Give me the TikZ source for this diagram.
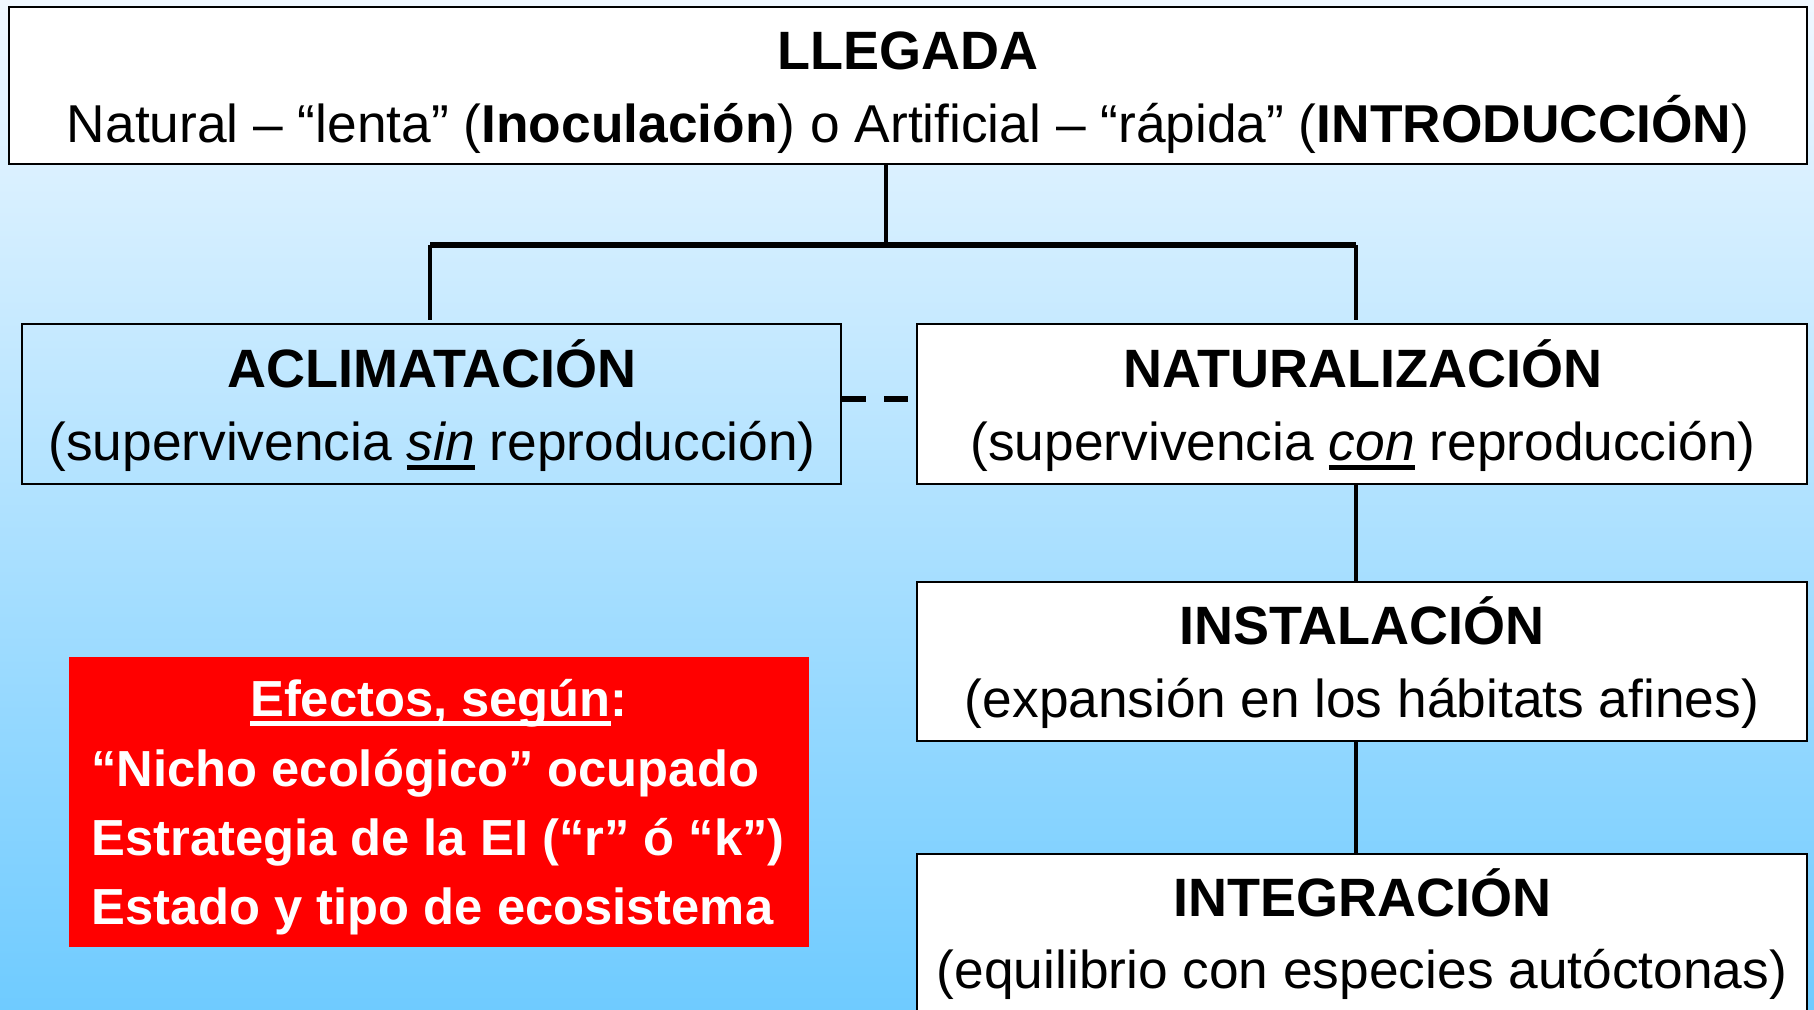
\documentclass[tikz,border=0pt]{standalone}
\usepackage{fontspec}
\setmainfont{Liberation Sans}
\usepackage{xcolor}
\usetikzlibrary{calc}

\definecolor{bgtop}{RGB}{240,248,255}
\definecolor{bgbottom}{RGB}{111,203,255}

% underline drawn close to the baseline, as in the slide
\newcommand{\undertxt}[1]{\setbox0\hbox{#1}\rlap{\rule[-5pt]{\wd0}{2.5pt}}\box0\relax}

\begin{document}
\begin{tikzpicture}[x=0.5pt,y=0.5pt,yscale=-1,xscale=1,
  boxnode/.style={draw=black, line width=1.2pt, fill=white, inner sep=0pt},
  head/.style={anchor=base, inner sep=0pt, font=\fontsize{27}{32}\selectfont\bfseries},
  sub/.style={anchor=base, inner sep=0pt, font=\fontsize{26.65}{31}\selectfont},
  redtxt/.style={anchor=base west, inner sep=0pt, text=white, font=\fontsize{25.35}{30}\selectfont\bfseries},
  link/.style={line width=2pt},
  bar/.style={line width=3pt},
  dashlink/.style={line width=3pt, dash pattern=on 12pt off 9pt}]

\useasboundingbox (0,0) rectangle (1814,1009);
\shade[top color=bgtop, bottom color=bgbottom] (0,0) rectangle (1814,1009);

% boxes
\node[boxnode, minimum width=899pt, minimum height=78.5pt] (llegada) at (908,85.5) {};
\node[boxnode, fill=none, minimum width=409.5pt, minimum height=80pt] (aclim) at (431.5,404) {};
\node[boxnode, minimum width=445pt, minimum height=80pt] (natur) at (1362,404) {};
\node[boxnode, minimum width=445pt, minimum height=79.5pt] (instal) at (1362,661.5) {};
\node[boxnode, minimum width=445pt, minimum height=80pt] (integr) at (1362,934) {};
\node[fill=red, draw=none, inner sep=0pt, minimum width=370pt, minimum height=145pt] (efectos) at (439,802) {};

% texts
\node[head] (llegadaT) at (908,69) {LLEGADA};
\node[sub] (llegadaS) at (908,142) {Natural – “lenta” (\textbf{Inoculación}) o Artificial – “rápida” (\textbf{INTRODUCCIÓN})};

\node[head] (aclimT) at (432,387) {ACLIMATACIÓN};
\node[sub] (aclimS) at (432,460) {(supervivencia \undertxt{\textit{sin}} reproducción)};

\node[head] (naturT) at (1363,387) {NATURALIZACIÓN};
\node[sub] (naturS) at (1363,460) {(supervivencia \undertxt{\textit{con}} reproducción)};

\node[head] (instalT) at (1362,644) {INSTALACIÓN};
\node[sub] (instalS) at (1362,717) {(expansión en los hábitats afines)};

\node[head] (integrT) at (1362,916) {INTEGRACIÓN};
\node[sub] (integrS) at (1362,988) {(equilibrio con especies autóctonas)};

\node[redtxt, anchor=base] (efectosT) at (439,716) {\undertxt{Efectos, según}:};
\node[redtxt] (nicho) at (91,786) {“Nicho ecológico” ocupado};
\node[redtxt] (estrategia) at (91,855) {Estrategia de la EI (“r” ó “k”)};
\node[redtxt] (estado) at (91,924) {Estado y tipo de ecosistema};

% connectors
\coordinate (fork) at (886,245);
\coordinate (forkL) at (430,245);
\coordinate (forkR) at (1356,245);
\draw[link] (llegada.south -| fork) -- (fork);
\draw[bar] (forkL) -- (forkR);
\draw[link, shorten >=1.5pt] (forkL) -- (forkL |- aclim.north);
\draw[link, shorten >=1.5pt] (forkR) -- (forkR |- natur.north);
\draw[link] (natur.south -| forkR) -- (instal.north -| forkR);
\draw[link] (instal.south -| forkR) -- (integr.north -| forkR);
\draw[dashlink] ($(aclim.east)+(0,-5)$) -- ($(natur.west)+(0,-5)$);

\end{tikzpicture}
\end{document}
